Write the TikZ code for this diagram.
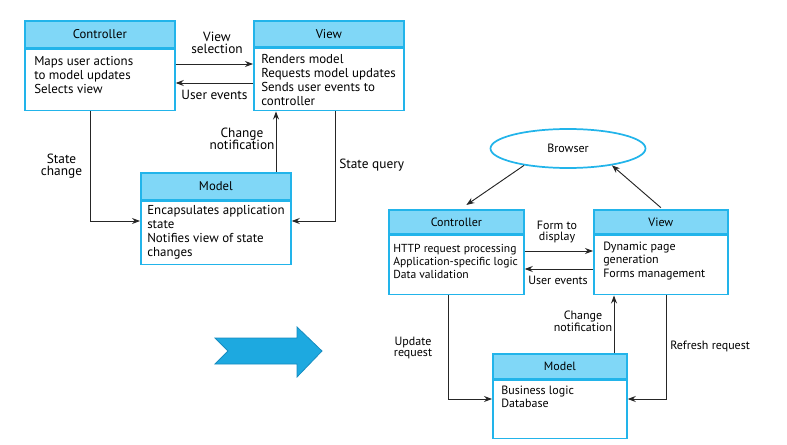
\documentclass[tikz,border=0pt]{standalone}
\usepackage{fontspec}
\setmainfont{PT Sans}
\usetikzlibrary{arrows.meta,shapes.geometric}
\definecolor{boxblue}{HTML}{22B4EA}
\definecolor{hdrblue}{HTML}{80D7F7}
\definecolor{bigblue}{HTML}{1DA9E0}
\definecolor{bigedge}{HTML}{178CC0}
\newcommand{\txtfont}{\fontsize{9}{10}\selectfont}
\newcommand{\lblfont}{\fontsize{9}{8}\selectfont}
\newcommand{\txtfontL}{\fontsize{9.7}{10.5}\selectfont}
\newcommand{\lblfontL}{\fontsize{10}{9.2}\selectfont}
\newcommand{\hdrfontL}{\fontsize{9.5}{10}\selectfont}
\tikzset{
  hdr/.style={draw=boxblue, fill=hdrblue, line width=1.3pt, anchor=north west,
    inner sep=0pt, font=\txtfont},
  body/.style={draw=boxblue, line width=1.3pt, anchor=north west, inner sep=0pt},
  txt/.style={anchor=north west, align=left, inner sep=0pt, font=\txtfont},
  lbl/.style={align=center, inner sep=0pt, font=\lblfont},
  conn/.style={-{Stealth[length=6pt,width=4.5pt]}, line width=0.7pt, draw=black!85}
}
\begin{document}
\begin{tikzpicture}[x=0.75pt,y=-0.75pt]
\useasboundingbox (0,0) rectangle (787,445);
% MVC pattern
\node[hdr, font=\hdrfontL, minimum width=112.5pt, minimum height=20.25pt] (ctrlL) at (24,20) {Controller};
\node[body, minimum width=112.5pt, minimum height=45.75pt] (ctrlLb) at (ctrlL.south west) {};
\node[txt, font=\txtfontL] (ctrlLt) at ([xshift=7.5pt,yshift=-5.5pt]ctrlLb.north west)
  {Maps user actions\\to model updates\\Selects view};
\node[hdr, font=\hdrfontL, minimum width=112.5pt, minimum height=19.5pt] (viewL) at (253,20) {View};
\node[body, minimum width=112.5pt, minimum height=46.5pt] (viewLb) at (viewL.south west) {};
\node[txt, font=\txtfontL] (viewLt) at ([xshift=6pt,yshift=-4.75pt]viewLb.north west)
  {Renders model\\Requests model updates\\Sends user events to\\controller};
\node[hdr, font=\hdrfontL, minimum width=112.5pt, minimum height=20.25pt] (modelL) at (140,172) {Model};
\node[body, minimum width=112.5pt, minimum height=47.25pt] (modelLb) at (modelL.south west) {};
\node[txt, font=\txtfontL] (modelLt) at ([xshift=5.25pt,yshift=-3.25pt]modelLb.north west)
  {Encapsulates application\\state\\Notifies view of state\\changes};
\draw[conn] (ctrlLb.east |- 0,64) -- (viewLb.west |- 0,64);
\draw[conn] (viewLb.west |- 0,83) -- (ctrlLb.east |- 0,83);
\draw[conn] (ctrlLb.south -| 90,0) |- (modelLb.west |- 0,221);
\draw[conn] (modelL.north -| 276,0) -- (viewLb.south -| 276,0);
\draw[conn] (viewLb.south -| 335,0) |- (modelLb.east |- 0,221);
\node[lbl, font=\lblfontL] (viewsel) at (217,43) {View\\selection};
\node[lbl, font=\lblfontL] (usrevL) at (214.5,95) {User events};
\node[lbl, font=\lblfontL] (statechg) at (61.5,166) {State\\change};
\node[lbl, font=\lblfontL] (chgnotL) at (242,139) {Change\\notification};
\node[lbl, font=\lblfontL, anchor=west] (stquery) at (339,165) {State query};
% big arrow
\draw[fill=bigblue, draw=bigedge, line width=0.6pt] (215,338) -- (297,338) -- (297,327)
  -- (322,351) -- (297,377) -- (297,364) -- (215,364) -- (228,351) -- cycle;
% web application
\node[ellipse, draw=boxblue, line width=1.3pt, minimum width=116.25pt, minimum height=29.25pt,
  inner sep=0pt, font=\txtfont] (browser) at (568,148.5) {Browser};
\node[hdr, minimum width=101.25pt, minimum height=18pt] (ctrlR) at (388,209) {Controller};
\node[body, minimum width=101.25pt, minimum height=44.25pt] (ctrlRb) at (ctrlR.south west) {};
\node[txt, font=\fontsize{8.7}{10}\selectfont] (ctrlRt) at ([xshift=3.75pt,yshift=-6.75pt]ctrlRb.north west)
  {HTTP request processing\\Application-specific logic\\Data validation};
\node[hdr, minimum width=100.5pt, minimum height=18pt] (viewR) at (593,209) {View};
\node[body, minimum width=100.5pt, minimum height=44.25pt] (viewRb) at (viewR.south west) {};
\node[txt] (viewRt) at ([xshift=7.5pt,yshift=-5.25pt]viewRb.north west)
  {Dynamic page\\generation\\Forms management};
\node[hdr, minimum width=100.5pt, minimum height=18.75pt] (modelR) at (492,353) {Model};
\node[body, minimum width=100.5pt, minimum height=43.5pt] (modelRb) at (modelR.south west) {};
\node[txt] (modelRt) at ([xshift=6.75pt,yshift=-4.5pt]modelRb.north west)
  {Business logic\\Database};
\draw[conn] (browser.201) -- ([xshift=7.5pt,yshift=3pt]ctrlR.north);
\draw[conn] ([yshift=1pt]viewR.north) -- (browser.339);
\draw[conn] (ctrlRb.east |- 0,251) -- (viewRb.west |- 0,251);
\draw[conn] (viewRb.west |- 0,269) -- (ctrlRb.east |- 0,269);
\draw[conn] (ctrlRb.south -| 448,0) |- (modelRb.west |- 0,399);
\draw[conn] (modelR.north -| 614,0) -- (viewRb.south -| 614,0);
\draw[conn] (viewRb.south -| 666,0) |- (modelRb.east |- 0,399);
\node[lbl] (formdisp) at (557,232) {Form to\\display};
\node[lbl] (usrevR) at (558,280) {User events};
\node[lbl] (updreq) at (413,348) {Update\\request};
\node[lbl] (chgnotR) at (583,321.5) {Change\\notification};
\node[lbl, anchor=west] (refresh) at (670,346) {Refresh request};
\end{tikzpicture}
\end{document}
